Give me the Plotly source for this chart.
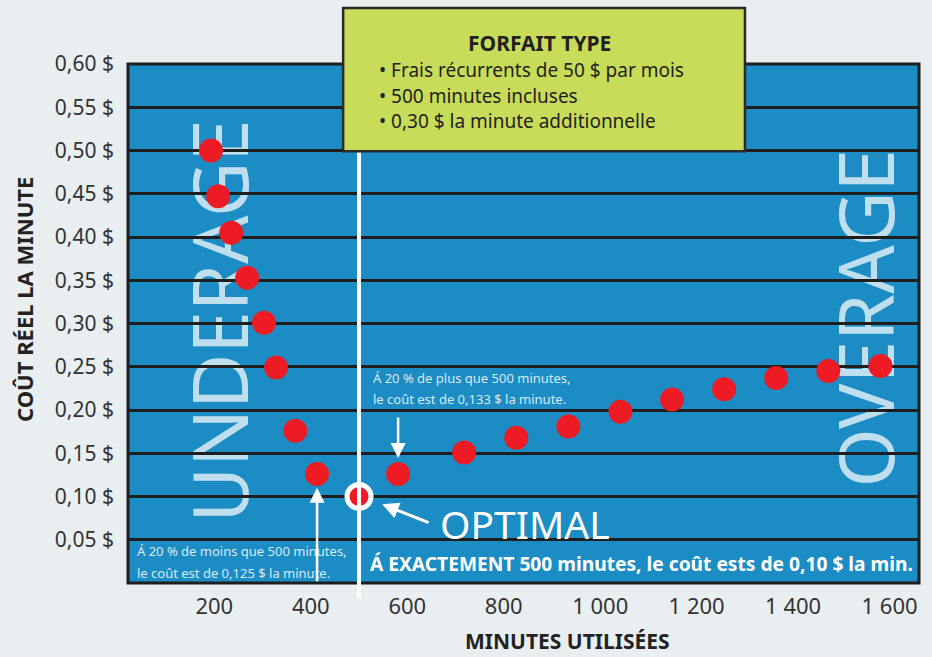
import plotly.graph_objects as go

# ---- data ----
minutes = [193, 208, 235, 268, 303, 328, 368, 413, 500, 581, 718, 826, 934, 1042, 1149, 1257, 1365, 1473, 1581]
cost = [0.500, 0.447, 0.405, 0.353, 0.301, 0.249, 0.176, 0.126, 0.100, 0.126, 0.151, 0.168, 0.181, 0.198, 0.212, 0.224, 0.237, 0.245, 0.251]
optimal_index = 8

x_tickvals = [200, 400, 600, 800, 1000, 1200, 1400, 1600]
x_ticktext = ["200", "400", "600", "800", "1 000", "1 200", "1 400", "1 600"]
y_tickvals = [0.05, 0.10, 0.15, 0.20, 0.25, 0.30, 0.35, 0.40, 0.45, 0.50, 0.55, 0.60]
y_ticktext = ["0,05 $", "0,10 $", "0,15 $", "0,20 $", "0,25 $", "0,30 $", "0,35 $", "0,40 $",
              "0,45 $", "0,50 $", "0,55 $", "0,60 $"]

box_title = "FORFAIT TYPE"
box_lines = ["• Frais récurrents de 50 $ par mois", "• 500 minutes incluses", "• 0,30 $ la minute additionnelle"]

FONT = "Noto Sans"
BLUE = "#1c8cc4"
RED = "#ed1c24"
DARK = "#1e1e1e"
TEXT = "#333333"

fig = go.Figure()

fig.add_trace(go.Scatter(
    x=[m for i, m in enumerate(minutes) if i != optimal_index],
    y=[c for i, c in enumerate(cost) if i != optimal_index],
    mode="markers",
    marker=dict(size=24, color=RED, line=dict(width=0)),
    hoverinfo="skip", showlegend=False,
))
fig.add_trace(go.Scatter(
    x=[minutes[optimal_index]], y=[cost[optimal_index]],
    mode="markers",
    marker=dict(size=24, color=RED, line=dict(width=5, color="white")),
    hoverinfo="skip", showlegend=False,
))

shapes = []
# big watermark words (between grid and traces)
shapes.append(dict(type="rect", xref="paper", yref="paper", x0=0.071, x1=0.171, y0=0.13, y1=0.88,
                   layer="between", line=dict(width=0), fillcolor="rgba(0,0,0,0)",
                   label=dict(text="UNDERAGE", textangle=-90, textposition="middle center",
                              font=dict(family=FONT, size=76, color="rgba(255,255,255,0.72)"))))
shapes.append(dict(type="rect", xref="paper", yref="paper", x0=0.888, x1=0.988, y0=0.17, y1=0.85,
                   layer="between", line=dict(width=0), fillcolor="rgba(0,0,0,0)",
                   label=dict(text="OVERAGE", textangle=-90, textposition="middle center",
                              font=dict(family=FONT, size=76, color="rgba(255,255,255,0.72)"))))
# plot border
shapes.append(dict(type="rect", xref="paper", yref="paper", x0=0, x1=1, y0=0, y1=1,
                   line=dict(color=DARK, width=3), layer="above"))
# white line at 500 minutes
shapes.append(dict(type="line", xref="x", yref="paper", x0=500, x1=500, y0=-0.03, y1=0.83,
                   line=dict(color="white", width=4), layer="above"))
# green box
shapes.append(dict(type="rect", xref="paper", yref="paper", x0=0.272, x1=0.780, y0=0.832, y1=1.108,
                   line=dict(color="#2a2a2a", width=2.5), fillcolor="#c8dc5a", layer="above"))

ann = []
ann.append(dict(xref="paper", yref="paper", x=(539 - 128) / 791, y=(583 - 43) / 519, text="<b>" + box_title + "</b>",
                showarrow=False, xanchor="center", yanchor="middle",
                font=dict(family=FONT, size=21, color="#222222")))
for i, line in enumerate(box_lines):
    ann.append(dict(xref="paper", yref="paper", x=(377 - 128) / 791, y=(583 - (70 + 25.5 * i)) / 519,
                    text=line, showarrow=False, xanchor="left", yanchor="middle",
                    font=dict(family=FONT, size=19, color="#222222")))

light = "#dbe9f4"
small = 13
ann.append(dict(xref="paper", yref="paper", x=(371 - 128) / 791, y=(583 - 378) / 519,
                text="Á 20 % de plus que 500 minutes,", showarrow=False, xanchor="left", yanchor="middle",
                font=dict(family=FONT, size=small, color=light)))
ann.append(dict(xref="paper", yref="paper", x=(371 - 128) / 791, y=(583 - 399) / 519,
                text="le coût est de 0,133 $ la minute.", showarrow=False, xanchor="left", yanchor="middle",
                font=dict(family=FONT, size=small, color=light)))
ann.append(dict(xref="paper", yref="paper", x=(135 - 128) / 791, y=(583 - 551) / 519,
                text="Á 20 % de moins que 500 minutes,", showarrow=False, xanchor="left", yanchor="middle",
                font=dict(family=FONT, size=small, color=light)))
ann.append(dict(xref="paper", yref="paper", x=(135 - 128) / 791, y=(583 - 573) / 519,
                text="le coût est de 0,125 $ la minute.", showarrow=False, xanchor="left", yanchor="middle",
                font=dict(family=FONT, size=small, color=light)))
ann.append(dict(xref="paper", yref="paper", x=(915 - 128) / 791, y=(583 - 563) / 519,
                text="<b>Á EXACTEMENT 500 minutes, le coût ests de 0,10 $ la min.</b>", showarrow=False,
                xanchor="right", yanchor="middle",
                font=dict(family=FONT, size=19.2, color="white")))
ann.append(dict(xref="paper", yref="paper", x=(438 - 128) / 791, y=(583 - 523) / 519,
                text="OPTIMAL", showarrow=False, xanchor="left", yanchor="middle",
                font=dict(family=FONT, size=39, color="white")))

# arrows
ann.append(dict(x=581, y=0.1445, xref="x", yref="y", text="", showarrow=True, ax=0, ay=-42,
                arrowcolor="white", arrowwidth=2.5, arrowhead=2, arrowsize=1.2))
ann.append(dict(x=413, y=0.110, xref="x", yref="y", text="", showarrow=True, ax=0, ay=95,
                arrowcolor="white", arrowwidth=2.5, arrowhead=2, arrowsize=1.2))
ann.append(dict(x=548, y=0.091, xref="x", yref="y", text="", showarrow=True, ax=48, ay=19,
                arrowcolor="white", arrowwidth=3, arrowhead=2, arrowsize=1.1))

# axis titles
ann.append(dict(xref="paper", yref="paper", x=(567 - 128) / 791, y=(583 - 641) / 519,
                text="<b>MINUTES UTILISÉES</b>", showarrow=False, xanchor="center", yanchor="middle",
                font=dict(family=FONT, size=21, color="#222222")))
ann.append(dict(xref="paper", yref="paper", x=(24 - 128) / 791, y=(583 - 300) / 519,
                text="<b>COÛT RÉEL LA MINUTE</b>", showarrow=False, xanchor="center", yanchor="middle",
                textangle=-90, font=dict(family=FONT, size=22, color="#222222")))

fig.update_layout(
    width=932, height=657,
    margin=dict(l=128, r=13, t=64, b=74),
    paper_bgcolor="#e9eff1",
    plot_bgcolor=BLUE,
    font=dict(family=FONT, color=TEXT),
    showlegend=False,
    shapes=shapes,
    annotations=ann,
    xaxis=dict(range=[21, 1661], showgrid=False, zeroline=False, showline=False,
               tickvals=x_tickvals, ticktext=x_ticktext, ticks="", ticklabelstandoff=8,
               tickfont=dict(family=FONT, size=22, color=TEXT), fixedrange=True),
    yaxis=dict(range=[0, 0.60], showgrid=True, gridcolor=DARK, gridwidth=3, zeroline=False, showline=False,
               tickvals=y_tickvals, ticktext=y_ticktext, ticks="", ticklabelstandoff=13,
               tickfont=dict(family=FONT, size=21, color=TEXT), fixedrange=True),
)

fig.write_html("out.html", config={"displayModeBar": False},
               post_script="document.body.style.margin='0px';")
